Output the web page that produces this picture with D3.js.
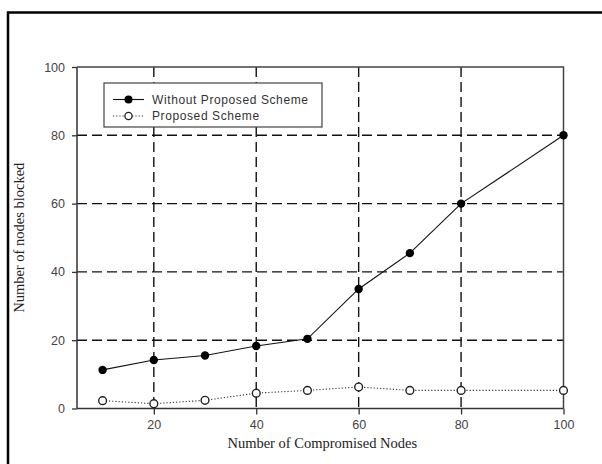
<!DOCTYPE html>
<html>
<head>
<meta charset="utf-8">
<script src="https://cdn.jsdelivr.net/npm/d3@7"></script>
<style>
  html, body { margin: 0; padding: 0; background: #fff; }
  svg { display: block; }
</style>
</head>
<body>
<svg id="chart" width="602" height="464"></svg>
<script>
// Compromised nodes on the x axis, nodes blocked on the y axis
const compromised = [10, 20, 30, 40, 50, 60, 70, 80, 100];
const withoutScheme = [11.3, 14.2, 15.5, 18.3, 20.4, 35, 45.5, 60, 80];
const proposedScheme = [2.3, 1.4, 2.4, 4.5, 5.3, 6.3, 5.3, 5.3, 5.3];
const xTicks = [20, 40, 60, 80, 100];
const yTicks = [0, 20, 40, 60, 80, 100];
const seriesNames = ["Without Proposed Scheme", "Proposed Scheme"];

const svg = d3.select("#chart");
const W = 602, H = 464;
const margin = { top: 67, right: 38.5, bottom: 55.5, left: 77 };
const iw = W - margin.left - margin.right;
const ih = H - margin.top - margin.bottom;

// outer border (runs off the right and bottom edges)
svg.append("rect")
  .attr("x", 8).attr("y", 12.5)
  .attr("width", 700).attr("height", 600)
  .attr("fill", "#fff").attr("stroke", "#000").attr("stroke-width", 2.5);

const x = d3.scaleLinear().domain([5, 100]).range([0, iw]);
const y = d3.scaleLinear().domain([0, 100]).range([ih, 0]);

const g = svg.append("g").attr("transform", `translate(${margin.left},${margin.top})`);

// dashed grid
g.append("g").selectAll("line").data(xTicks.filter(v => v < 100)).join("line")
  .attr("x1", d => x(d)).attr("x2", d => x(d))
  .attr("y1", 0).attr("y2", ih)
  .attr("stroke", "#111").attr("stroke-width", 1.4)
  .attr("stroke-dasharray", "10,5");
g.append("g").selectAll("line").data(yTicks.filter(v => v > 0 && v < 100)).join("line")
  .attr("x1", 0).attr("x2", iw)
  .attr("y1", d => y(d)).attr("y2", d => y(d))
  .attr("stroke", "#111").attr("stroke-width", 1.4)
  .attr("stroke-dasharray", "10,5");

// top and right edges of the plot
g.append("path")
  .attr("d", `M0,${y(100)}H${x(100)}V${y(0)}`)
  .attr("fill", "none").attr("stroke", "#444").attr("stroke-width", 1.5);

// axes
const xAxis = g.append("g").attr("transform", `translate(0,${ih})`)
  .call(d3.axisBottom(x).tickValues(xTicks).tickSize(6).tickPadding(6));
const yAxis = g.append("g")
  .call(d3.axisLeft(y).tickValues(yTicks).tickSize(5).tickPadding(7));
[xAxis, yAxis].forEach(a => {
  a.select(".domain").attr("stroke", "#333").attr("stroke-width", 1.5);
  a.selectAll(".tick line").attr("stroke", "#333").attr("stroke-width", 1.3);
  a.selectAll(".tick text")
    .attr("fill", "#444")
    .style("font-family", "'Liberation Sans', Arial, sans-serif")
    .style("font-size", "12.5px");
});
yAxis.select(".domain").attr("d", `M-0,${ih}V0`);
xAxis.select(".domain").attr("d", `M0,0H${iw}`);

// series
const pts = (vals) => compromised.map((c, i) => [c, vals[i]]);
const line = d3.line().x(d => x(d[0])).y(d => y(d[1]));

g.append("path").datum(pts(proposedScheme))
  .attr("d", line).attr("fill", "none")
  .attr("stroke", "#333").attr("stroke-width", 1.1)
  .attr("stroke-dasharray", "1.2,2");
g.append("path").datum(pts(withoutScheme))
  .attr("d", line).attr("fill", "none")
  .attr("stroke", "#111").attr("stroke-width", 1.1);

g.append("g").selectAll("circle").data(pts(withoutScheme)).join("circle")
  .attr("cx", d => x(d[0])).attr("cy", d => y(d[1])).attr("r", 4.2)
  .attr("fill", "#000");
g.append("g").selectAll("circle").data(pts(proposedScheme)).join("circle")
  .attr("cx", d => x(d[0])).attr("cy", d => y(d[1])).attr("r", 3.9)
  .attr("fill", "#fff").attr("stroke", "#222").attr("stroke-width", 1.4);

// legend
const lg = svg.append("g").attr("transform", "translate(104,83)");
lg.append("rect").attr("width", 218).attr("height", 44)
  .attr("fill", "#fff").attr("stroke", "#444").attr("stroke-width", 1.2);
const rows = [
  { name: seriesNames[0], y: 16.5, dash: null, fill: "#000", stroke: "#111" },
  { name: seriesNames[1], y: 33, dash: "1.2,2", fill: "#fff", stroke: "#333" }
];
rows.forEach(r => {
  lg.append("line").attr("x1", 9).attr("x2", 40).attr("y1", r.y).attr("y2", r.y)
    .attr("stroke", r.stroke).attr("stroke-width", 1.1)
    .attr("stroke-dasharray", r.dash);
  lg.append("circle").attr("cx", 24.5).attr("cy", r.y).attr("r", r.fill === "#000" ? 4 : 3.6)
    .attr("fill", r.fill).attr("stroke", r.fill === "#000" ? "none" : "#222")
    .attr("stroke-width", 1.3);
  lg.append("text").attr("x", 48).attr("y", r.y).attr("dy", "0.36em")
    .attr("fill", "#333")
    .style("font-family", "'Liberation Sans', Arial, sans-serif")
    .style("font-size", "12px").style("letter-spacing", "0.6px")
    .text(r.name);
});

// axis titles
svg.append("text")
  .attr("x", margin.left + iw / 2 + 2).attr("y", 448)
  .attr("text-anchor", "middle").attr("fill", "#222")
  .style("font-family", "'Liberation Serif', 'Times New Roman', serif")
  .style("font-size", "14.5px")
  .text("Number of Compromised Nodes");
svg.append("text")
  .attr("transform", `translate(24,${margin.top + ih / 2}) rotate(-90)`)
  .attr("text-anchor", "middle").attr("fill", "#222")
  .style("font-family", "'Liberation Serif', 'Times New Roman', serif")
  .style("font-size", "14.5px")
  .text("Number of nodes blocked");
</script>
</body>
</html>
